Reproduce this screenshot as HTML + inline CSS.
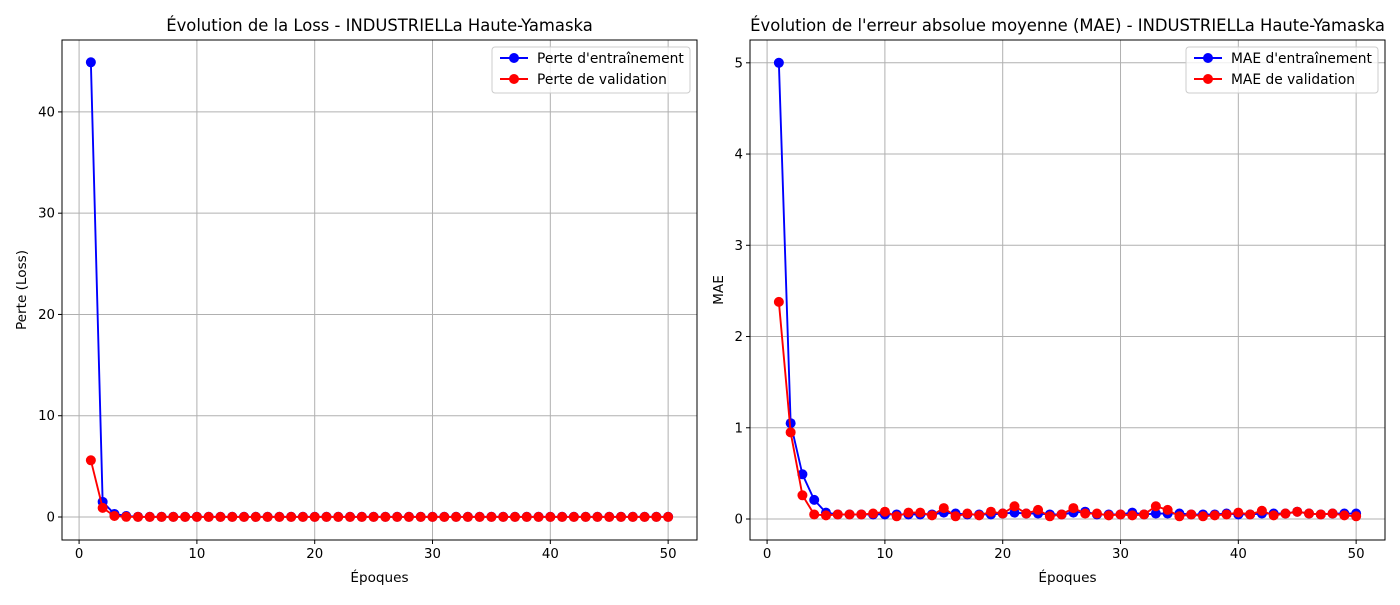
<!DOCTYPE html>
<html><head><meta charset="utf-8"><style>
body{margin:0;background:#fff;font-family:"Liberation Sans","DejaVu Sans",sans-serif}
svg text{font-family:"DejaVu Sans","Liberation Sans",sans-serif}
</style></head><body>
<svg id="c" width="1400" height="600" xmlns="http://www.w3.org/2000/svg"></svg>
<script>
const epochs=[];for(let i=1;i<=50;i++)epochs.push(i);
const lossTrain=[44.9,1.5,0.3,0.1,0.03,0.02,0.02,0.02,0.02,0.02,0.02,0.02,0.02,0.02,0.02,0.02,0.02,0.02,0.02,0.02,0.02,0.02,0.02,0.02,0.02,0.02,0.02,0.02,0.02,0.02,0.02,0.02,0.02,0.02,0.02,0.02,0.02,0.02,0.02,0.02,0.02,0.02,0.02,0.02,0.02,0.02,0.02,0.02,0.02,0.02];
const lossVal=[5.6,0.9,0.1,0.02,0.01,0.01,0.01,0.01,0.01,0.01,0.01,0.01,0.01,0.01,0.01,0.01,0.01,0.01,0.01,0.01,0.01,0.01,0.01,0.01,0.01,0.01,0.01,0.01,0.01,0.01,0.01,0.01,0.01,0.01,0.01,0.01,0.01,0.01,0.01,0.01,0.01,0.01,0.01,0.01,0.01,0.01,0.01,0.01,0.01,0.01];
const maeTrain=[5.0,1.05,0.49,0.21,0.07,0.05,0.05,0.05,0.05,0.05,0.05,0.05,0.05,0.05,0.07,0.06,0.05,0.05,0.05,0.06,0.07,0.06,0.06,0.05,0.05,0.07,0.08,0.05,0.05,0.05,0.07,0.05,0.06,0.06,0.06,0.05,0.05,0.05,0.06,0.05,0.05,0.06,0.06,0.06,0.08,0.06,0.05,0.06,0.06,0.06];
const maeVal=[2.38,0.95,0.26,0.05,0.04,0.05,0.05,0.05,0.06,0.08,0.03,0.07,0.07,0.04,0.12,0.03,0.06,0.04,0.08,0.06,0.14,0.06,0.10,0.03,0.05,0.12,0.06,0.06,0.04,0.05,0.04,0.05,0.14,0.10,0.03,0.05,0.03,0.04,0.05,0.07,0.05,0.09,0.04,0.06,0.08,0.06,0.05,0.06,0.04,0.03];
const xTicks=[0,10,20,30,40,50];
const lossTicks=[0,10,20,30,40];
const maeTicks=[0,1,2,3,4,5];
const svg=document.getElementById('c');const NS='http://www.w3.org/2000/svg';
function el(t,a,p){const e=document.createElementNS(NS,t);for(const k in a)e.setAttribute(k,a[k]);(p||svg).appendChild(e);return e;}
function panel(o){
 const g=el('g',{});
 const L=o.x0,R=o.x1,T=40,B=540;
 const sx=v=>L+(v-(-1.45))/(52.45+1.45)*(R-L);
 const sy=v=>B-(v-o.ymin)/(o.ymax-o.ymin)*(B-T);
 xTicks.forEach(t=>{const x=sx(t);el('line',{x1:x,x2:x,y1:T,y2:B,stroke:'#b0b0b0','stroke-width':1},g);
  el('line',{x1:x,x2:x,y1:B,y2:B+4,stroke:'#000','stroke-width':1},g);
  const tx=el('text',{x:x,y:B+18,'text-anchor':'middle','font-size':13.3},g);tx.textContent=t;});
 o.yt.forEach(t=>{const y=sy(t);el('line',{x1:L,x2:R,y1:y,y2:y,stroke:'#b0b0b0','stroke-width':1},g);
  el('line',{x1:L-4,x2:L,y1:y,y2:y,stroke:'#000','stroke-width':1},g);
  const tx=el('text',{x:L-7,y:y+4.5,'text-anchor':'end','font-size':13.3},g);tx.textContent=t;});
 o.series.forEach(s=>{const sg=el('g',{},g);
  el('polyline',{points:epochs.map((e,i)=>sx(e)+','+sy(s.d[i])).join(' '),fill:'none',stroke:s.c,'stroke-width':1.9},sg);
  epochs.forEach((e,i)=>{const c=el('circle',{cx:sx(e),cy:sy(s.d[i]),r:5,fill:s.c},sg);});});
 el('rect',{x:L,y:T,width:R-L,height:B-T,fill:'none',stroke:'#000','stroke-width':1},g);
 const ti=el('text',{x:(L+R)/2,y:31,'text-anchor':'middle','font-size':16.4},g);ti.textContent=o.title;
 const xl=el('text',{x:(L+R)/2,y:582,'text-anchor':'middle','font-size':13.6},g);xl.textContent='Époques';
 const yl=el('text',{x:0,y:0,'text-anchor':'middle','font-size':13.6,transform:`translate(${o.ylx},290) rotate(-90)`},g);yl.textContent=o.ylab;
 const lg=el('g',{},g);
 el('rect',{x:o.lx,y:47,width:o.lw,height:46,rx:3,fill:'#fff','fill-opacity':0.8,stroke:'#ccc'},lg);
 o.series.forEach((s,i)=>{const y=58+i*21;const e=el('g',{},lg);
  el('line',{x1:o.lx+8,x2:o.lx+36,y1:y,y2:y,stroke:s.c,'stroke-width':1.9},e);
  el('circle',{cx:o.lx+22,cy:y,r:5,fill:s.c},e);
  const t=el('text',{x:o.lx+45,y:y+5,'font-size':13.8},e);t.textContent=s.label;});
}
panel({name:'loss-chart',x0:62,x1:697,ymin:-2.27,ymax:47.1,yt:lossTicks,title:'Évolution de la Loss - INDUSTRIELLa Haute-Yamaska',ylab:'Perte (Loss)',ylx:26,lx:492,lw:198,
 series:[{name:'train-loss-series',d:lossTrain,c:'#0000ff',label:"Perte d'entraînement"},{name:'val-loss-series',d:lossVal,c:'#ff0000',label:'Perte de validation'}]});
panel({name:'mae-chart',x0:750,x1:1385,ymin:-0.23,ymax:5.25,yt:maeTicks,title:"Évolution de l'erreur absolue moyenne (MAE) - INDUSTRIELLa Haute-Yamaska",ylab:'MAE',ylx:723,lx:1186,lw:192,
 series:[{name:'train-mae-series',d:maeTrain,c:'#0000ff',label:"MAE d'entraînement"},{name:'val-mae-series',d:maeVal,c:'#ff0000',label:'MAE de validation'}]});
</script>
</body></html>
